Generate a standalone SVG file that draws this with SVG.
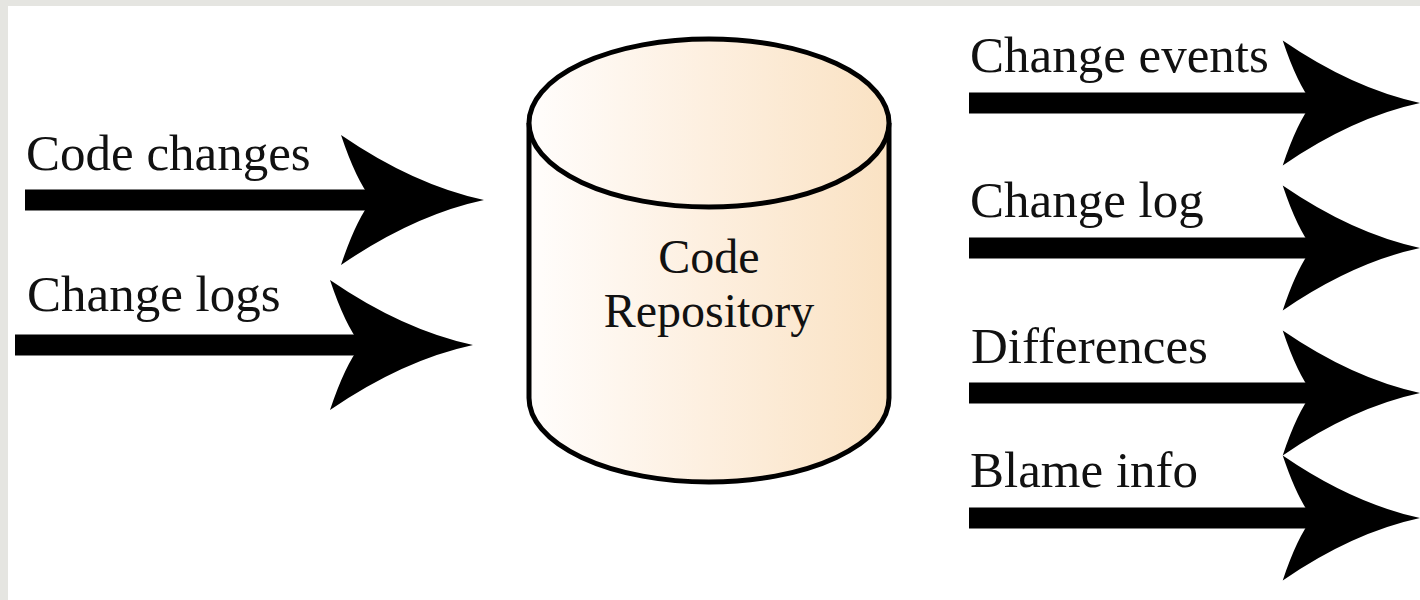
<svg xmlns="http://www.w3.org/2000/svg" width="1420" height="600" viewBox="0 0 1420 600">
  <defs>
    <linearGradient id="cylFill" x1="0" y1="0" x2="1" y2="0">
      <stop offset="0" stop-color="#fffdfc"/>
      <stop offset="0.5" stop-color="#fdefdf"/>
      <stop offset="1" stop-color="#fae2c3"/>
    </linearGradient>
    <g id="arrowHead">
      <path d="M 0 0 Q -70 -15 -143 -65 Q -128 -20 -112 0 Q -128 20 -143 65 Q -70 15 0 0 Z"/>
    </g>
  </defs>
  <style>
    .lbl { font-family: "Liberation Serif", "DejaVu Serif", serif; font-size: 51px; fill: #111; }
    .mid { font-size: 48px; }
    .shaft { fill: #000; }
    .head { fill: #000; }
    .cyl { fill: url(#cylFill); stroke: #000; stroke-width: 5; }
  </style>
  <rect x="0" y="0" width="1420" height="600" fill="#e5e5e1"/>
  <rect x="8" y="6" width="1412" height="594" fill="#ffffff"/>

  <g id="repo">
    <path class="cyl" d="M 529 123 L 529 398 A 180 84 0 0 0 889 398 L 889 123"/>
    <ellipse class="cyl" cx="709" cy="123" rx="180" ry="84"/>
    <text class="lbl mid" x="709" y="273" text-anchor="middle">Code</text>
    <text class="lbl mid" x="709" y="327" text-anchor="middle">Repository</text>
  </g>

  <g id="connectors">
    <g id="in-code-changes">
      <rect class="shaft" x="25" y="189.5" width="360" height="21"/>
      <use href="#arrowHead" class="head" transform="translate(484,200)"/>
    </g>
    <g id="in-change-logs">
      <rect class="shaft" x="15" y="334.5" width="360" height="21"/>
      <use href="#arrowHead" class="head" transform="translate(473,345)"/>
    </g>
    <g id="out-change-events">
      <rect class="shaft" x="969" y="92.5" width="360" height="21"/>
      <use href="#arrowHead" class="head" transform="translate(1420,103) scale(0.96)"/>
    </g>
    <g id="out-change-log">
      <rect class="shaft" x="969" y="237.5" width="360" height="21"/>
      <use href="#arrowHead" class="head" transform="translate(1420,248) scale(0.96)"/>
    </g>
    <g id="out-differences">
      <rect class="shaft" x="969" y="382.5" width="360" height="21"/>
      <use href="#arrowHead" class="head" transform="translate(1420,393) scale(0.96)"/>
    </g>
    <g id="out-blame-info">
      <rect class="shaft" x="969" y="507.5" width="360" height="21"/>
      <use href="#arrowHead" class="head" transform="translate(1420,518) scale(0.96)"/>
    </g>
  </g>

  <g id="labels">
    <text class="lbl" x="26" y="170">Code changes</text>
    <text class="lbl" x="27" y="311">Change logs</text>
    <text class="lbl" x="970" y="72">Change events</text>
    <text class="lbl" x="970" y="217">Change log</text>
    <text class="lbl" x="971" y="363">Differences</text>
    <text class="lbl" x="970" y="487">Blame info</text>
  </g>
</svg>
